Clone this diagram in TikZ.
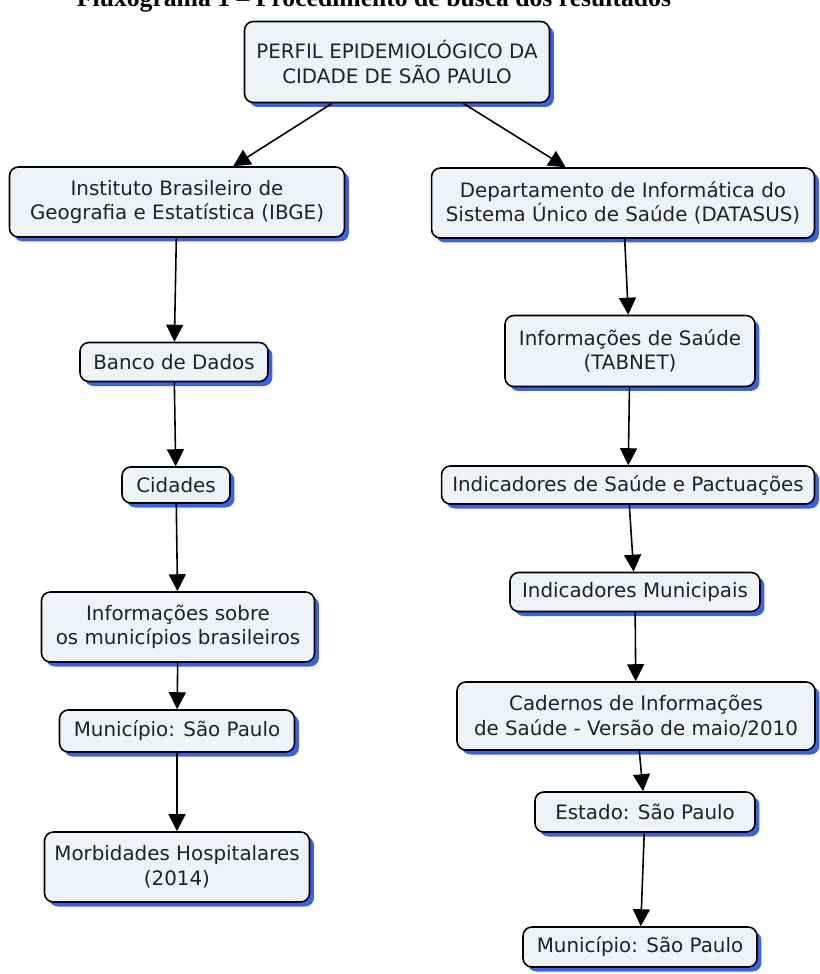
\documentclass[tikz,border=0pt]{standalone}
\usepackage{fontspec}
\setmainfont{DejaVu Sans}
\newfontfamily\titlefont{Liberation Serif}
\usepackage{xcolor}
\usepackage{tikz}
\usetikzlibrary{arrows.meta,shadows}

\definecolor{boxfill}{HTML}{EEF3F7}
\definecolor{shadowblue}{HTML}{3D62DE}
\definecolor{boxtext}{HTML}{222222}

\begin{document}
\begin{tikzpicture}[
  x=0.02cm, y=-0.02cm,
  font=\fontsize{11.3}{14}\selectfont,
  box/.style={draw, line width=0.9pt, rounded corners=5pt, fill=boxfill,
    text=boxtext, align=center, inner sep=2pt,
    drop shadow={shadow xshift=0.9mm, shadow yshift=-0.9mm,
      fill=shadowblue, opacity=1}},
  arr/.style={-{Triangle[length=3.4mm, width=3.4mm]}, line width=0.9pt}
]
\clip (0,0) rectangle (820,974);
\fill[white] (0,0) rectangle (820,974);

% title, cut at the top edge
\node[anchor=base, font=\titlefont\bfseries\fontsize{14.6}{17}\selectfont]
  (titulo) at (374,6) {Fluxograma 1 – Procedimento de busca dos resultados};

% top
\node[box, minimum width=6.1cm, minimum height=1.62cm] (perfil) at (397,62)
  {PERFIL EPIDEMIOLÓGICO DA\\CIDADE DE SÃO PAULO};

% left column
\node[box, minimum width=6.7cm, minimum height=1.4cm] (ibge) at (177,202)
  {Instituto Brasileiro de\\Geografia e Estatística (IBGE)};
\node[box, minimum width=3.76cm, minimum height=0.78cm] (banco) at (174,362)
  {Banco de Dados};
\node[box, minimum width=2.16cm, minimum height=0.72cm] (cidades) at (176,485)
  {Cidades};
\node[box, minimum width=5.46cm, minimum height=1.4cm] (infomun) at (178,627)
  {Informações sobre\\os municípios brasileiros};
\node[box, minimum width=4.7cm, minimum height=0.84cm] (munesq) at (177,731)
  {Município: São Paulo};
\node[box, minimum width=5.3cm, minimum height=1.4cm] (morb) at (177,867)
  {Morbidades Hospitalares\\(2014)};

% right column
\node[box, minimum width=7.66cm, minimum height=1.4cm] (datasus) at (623,203)
  {Departamento de Informática do\\Sistema Único de Saúde (DATASUS)};
\node[box, minimum width=5.0cm, minimum height=1.42cm] (tabnet) at (630,351)
  {Informações de Saúde\\(TABNET)};
\node[box, minimum width=7.46cm, minimum height=0.76cm] (indsaude) at (628,485)
  {Indicadores de Saúde e Pactuações};
\node[box, minimum width=5.0cm, minimum height=0.78cm] (indmun) at (635,592)
  {Indicadores Municipais};
\node[box, minimum width=7.16cm, minimum height=1.36cm] (cadernos) at (636,716)
  {Cadernos de Informações\\de Saúde - Versão de maio/2010};
\node[box, minimum width=4.4cm, minimum height=0.8cm] (estado) at (645,812)
  {Estado: São Paulo};
\node[box, minimum width=4.68cm, minimum height=0.8cm] (mundir) at (640,947)
  {Município: São Paulo};

% connectors
\draw[arr] (perfil) -- (ibge);
\draw[arr] (perfil) -- (datasus);
\draw[arr] (ibge) -- (banco);
\draw[arr] (banco) -- (cidades);
\draw[arr] (cidades) -- (infomun);
\draw[arr] (infomun) -- (munesq);
\draw[arr] (munesq) -- (morb);
\draw[arr] (datasus) -- (tabnet);
\draw[arr] (tabnet) -- (indsaude);
\draw[arr] (indsaude) -- (indmun);
\draw[arr] (indmun) -- (cadernos);
\draw[arr] (cadernos) -- (estado);
\draw[arr] (estado) -- (mundir);
\end{tikzpicture}
\end{document}
